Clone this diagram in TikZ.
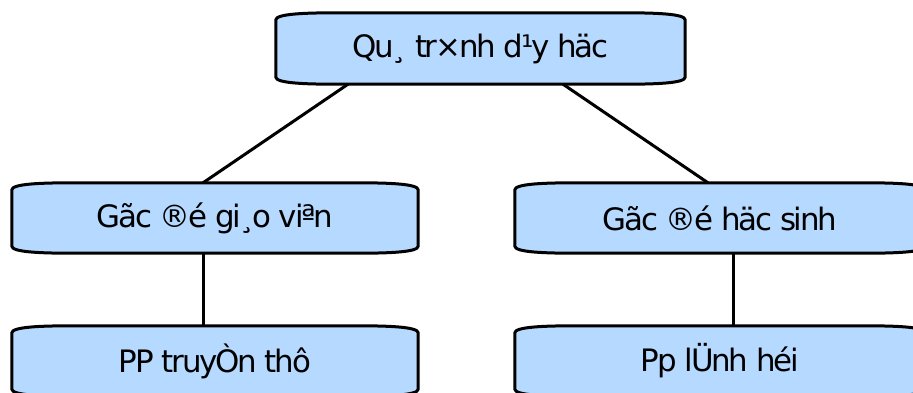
\documentclass[tikz,border=0pt]{standalone}
\usepackage{fontspec}
\setmainfont[LetterSpace=-7]{DejaVu Sans}
\usetikzlibrary{calc,backgrounds}
\definecolor{boxblue}{RGB}{181,217,255}
\tikzset{
  card/.style={minimum width=#1, minimum height=70bp, inner sep=0pt,
    font=\fontsize{31}{36}\selectfont},
  barrel/.style={fill=boxblue, draw=black, line width=3bp},
  link/.style={draw=black, line width=3bp}
}
% Barrel-shaped outline behind a node: straight sides, gently bowed top and bottom
\newcommand\barrelbox[1]{%
  \path[barrel] let \p1=(#1.north west), \p2=(#1.south east) in
    (\x1,\y1-7bp) -- (\x1,\y2+7bp)
    .. controls (\x1,\y2+1bp) and (\x1+30bp,\y2) .. (\x1+60bp,\y2)
    -- (\x2-60bp,\y2)
    .. controls (\x2-30bp,\y2) and (\x2,\y2+1bp) .. (\x2,\y2+7bp)
    -- (\x2,\y1-7bp)
    .. controls (\x2,\y1-1bp) and (\x2-30bp,\y1) .. (\x2-60bp,\y1)
    -- (\x1+60bp,\y1)
    .. controls (\x1+30bp,\y1) and (\x1,\y1-1bp) .. (\x1,\y1-7bp) -- cycle;}
\begin{document}
\begin{tikzpicture}[x=1bp,y=-1bp]
  \useasboundingbox (0,0) rectangle (913,392);

  \node[card=409bp, minimum height=71bp] (top) at (480.5,48.5) {Qu¸ tr×nh d¹y häc};
  \node[card=406bp] (gv) at (215,218) {Gãc ®é gi¸o viªn};
  \node[card=410bp] (hs) at (720,218) {Gãc ®é häc sinh};
  \node[card=406bp] (pp1) at (215,361) {PP truyÒn thô};
  \node[card=410bp] (pp2) at (720,361) {Pp lÜnh héi};

  \begin{scope}[on background layer]
    \barrelbox{top}
    \barrelbox{gv}
    \barrelbox{hs}
    \barrelbox{pp1}
    \barrelbox{pp2}
  \end{scope}

  \draw[link] ($(top.south)+(-132.5,0)$) -- ($(gv.north)+(-12,0)$);
  \draw[link] ($(top.south)+(82.5,0)$) -- ($(hs.north)+(-12,0)$);
  \draw[link] ($(gv.south)+(-12,0)$) -- ($(pp1.north)+(-12,0)$);
  \draw[link] ($(hs.south)+(13,0)$) -- ($(pp2.north)+(13,0)$);
\end{tikzpicture}
\end{document}
